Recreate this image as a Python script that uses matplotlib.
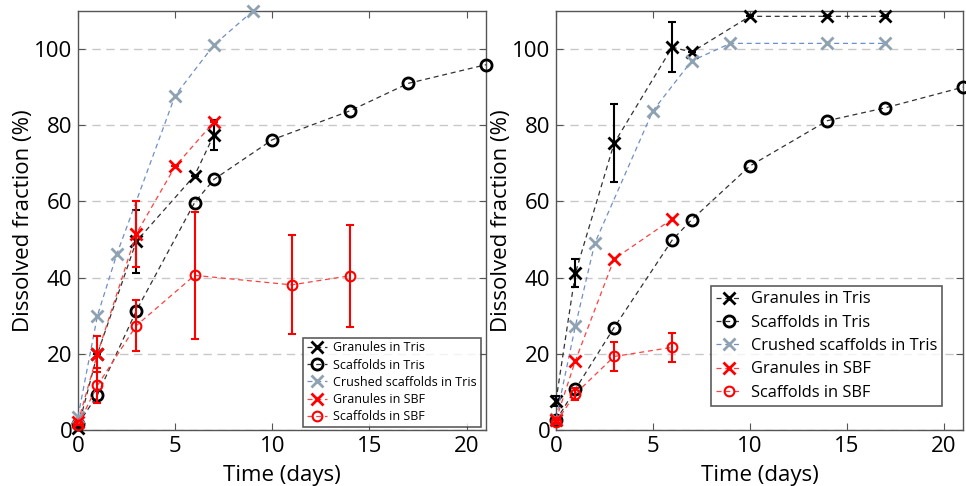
import numpy as np
import matplotlib
matplotlib.use('Agg')
import matplotlib.pyplot as plt

plt.rcParams['font.family'] = ['Open Sans', 'DejaVu Sans']

# Left panel: dissolution data
gt_days_L = [0, 1, 3, 6, 7]
gt_L = [0.5, 20.0, 49.5, 66.8, 77.5]
gt_err_L = [0, 0, 8.3, 0, 4.0]

st_days_L = [0, 1, 3, 6, 7, 10, 14, 17, 21]
st_L = [1.5, 9.2, 31.3, 59.7, 65.8, 76.2, 83.8, 91.0, 95.9]

ct_days_L = [0, 1, 2, 5, 7, 9]
ct_L = [3.5, 30.0, 46.2, 87.8, 101.1, 110.0]

gs_days_L = [0, 1, 3, 5, 7]
gs_L = [2.0, 20.0, 51.5, 69.2, 80.9]
gs_err_L = [0, 4.7, 8.7, 0, 0]

ss_days_L = [0, 1, 3, 6, 11, 14]
ss_L = [1.3, 11.7, 27.4, 40.6, 38.1, 40.5]
ss_err_L = [0, 4.5, 6.7, 16.6, 13.0, 13.4]

# Right panel
gt_days_R = [0, 1, 3, 6, 7, 10, 14, 17]
gt_R = [7.7, 41.2, 75.3, 100.5, 99.2, 108.6, 108.6, 108.6]
gt_err_R = [1.3, 3.6, 10.2, 6.6, 0, 0, 0, 0]

st_days_R = [0, 1, 3, 6, 7, 10, 14, 17, 21]
st_R = [2.5, 10.7, 26.9, 49.9, 55.2, 69.3, 81.2, 84.6, 90.0]

ct_days_R = [0, 1, 2, 5, 7, 9, 14, 17]
ct_R = [3.0, 27.3, 49.0, 83.8, 96.9, 101.5, 101.5, 101.5]

gs_days_R = [0, 1, 3, 6]
gs_R = [2.7, 18.2, 44.9, 55.4]

ss_days_R = [0, 1, 3, 6]
ss_R = [2.0, 9.5, 19.3, 21.7]
ss_err_R = [0.5, 1.6, 3.9, 3.8]

labels = ['Granules in Tris', 'Scaffolds in Tris', 'Crushed scaffolds in Tris',
          'Granules in SBF', 'Scaffolds in SBF']

RED = '#ff0000'
BLUE_LINE = '#6f8fc8'
BLUE_MARK = '#8ea2b2'


def draw_panel(ax, gt, st, ct, gs, ss, legend_fs, legend_anchor, legend_space):
    handles = []
    # granules in Tris
    d, v, e = gt
    h, = ax.plot(d, v, ls='--', lw=0.9, color='#333333', marker='x', ms=8,
                 mew=2, mec='black', clip_on=False, zorder=3, dashes=(4, 3))
    if e is not None:
        ax.errorbar(d, v, yerr=e, fmt='none', ecolor='black', elinewidth=1.5,
                    capsize=3, capthick=1.5, clip_on=False, zorder=3)
    handles.append(h)
    # scaffolds in Tris
    d, v, e = st
    h, = ax.plot(d, v, ls='--', lw=0.9, color='#333333', marker='o', ms=8,
                 mew=2, mec='black', mfc='none', clip_on=False, zorder=3,
                 dashes=(4, 3))
    handles.append(h)
    # crushed scaffolds in Tris
    d, v, e = ct
    h, = ax.plot(d, v, ls='--', lw=0.9, color=BLUE_LINE, marker='x', ms=8,
                 mew=2, mec=BLUE_MARK, clip_on=False, zorder=3, dashes=(4, 3))
    handles.append(h)
    # granules in SBF
    d, v, e = gs
    h, = ax.plot(d, v, ls='--', lw=0.9, color='#ff4040', marker='x', ms=8,
                 mew=2, mec=RED, clip_on=False, zorder=4, dashes=(4, 3))
    if e is not None:
        ax.errorbar(d, v, yerr=e, fmt='none', ecolor=RED, elinewidth=1.5,
                    capsize=3, capthick=1.5, clip_on=False, zorder=4)
    handles.append(h)
    # scaffolds in SBF
    d, v, e = ss
    h, = ax.plot(d, v, ls='--', lw=0.9, color='#ff4040', marker='o', ms=7,
                 mew=1.5, mec=RED, mfc='none', clip_on=False, zorder=4,
                 dashes=(4, 3))
    if e is not None:
        ax.errorbar(d, v, yerr=e, fmt='none', ecolor=RED, elinewidth=1.5,
                    capsize=3, capthick=1.5, clip_on=False, zorder=4)
    handles.append(h)

    ax.set_xlim(0, 21)
    ax.set_ylim(0, 110)
    ax.set_xticks([0, 5, 10, 15, 20])
    ax.set_yticks([0, 20, 40, 60, 80, 100])
    ax.yaxis.grid(True, ls=(0, (6, 4)), color='#c8c8c8', lw=1)
    ax.set_axisbelow(True)
    ax.tick_params(direction='in', top=True, right=True, labelsize=16,
                   length=5, color='#555555', pad=4)
    for sp in ax.spines.values():
        sp.set_color('#555555')
        sp.set_linewidth(1)
    ax.set_xlabel('Time (days)', fontsize=16, labelpad=6)
    ax.set_ylabel('Dissolved fraction (%)', fontsize=16, labelpad=0)
    leg = ax.legend(handles, labels, loc='lower right', bbox_to_anchor=legend_anchor,
                    fontsize=legend_fs, frameon=True, fancybox=False,
                    handlelength=1.6, handletextpad=0.5, borderpad=0.3,
                    labelspacing=legend_space, borderaxespad=0)
    leg.get_frame().set_edgecolor('#333333')
    leg.get_frame().set_linewidth(1.2)


fig = plt.figure(figsize=(9.66, 4.86), dpi=100)
ax1 = fig.add_axes([78 / 966, 56 / 486, 408 / 966, 419 / 486])
ax2 = fig.add_axes([556 / 966, 56 / 486, 407 / 966, 419 / 486])

draw_panel(ax1,
           (gt_days_L, gt_L, gt_err_L),
           (st_days_L, st_L, None),
           (ct_days_L, ct_L, None),
           (gs_days_L, gs_L, gs_err_L),
           (ss_days_L, ss_L, ss_err_L),
           legend_fs=9.0, legend_anchor=(0.987, 0.007), legend_space=0.34)
draw_panel(ax2,
           (gt_days_R, gt_R, gt_err_R),
           (st_days_R, st_R, None),
           (ct_days_R, ct_R, None),
           (gs_days_R, gs_R, None),
           (ss_days_R, ss_R, ss_err_R),
           legend_fs=11.8, legend_anchor=(0.948, 0.058), legend_space=0.45)

fig.savefig('out.png', dpi=100)
